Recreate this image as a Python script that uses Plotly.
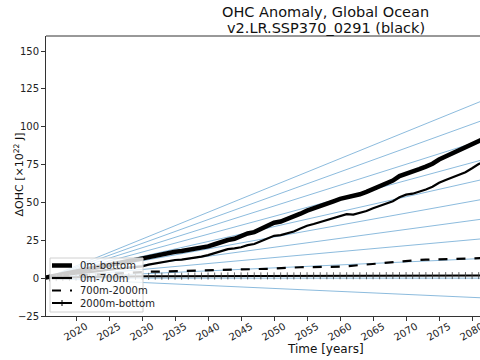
import plotly.graph_objects as go

years = list(range(2015, 2083))

ohc_total = [0.0, 0.9, 2.1, 2.9, 3.8, 4.6, 5.3, 6.4, 7.0, 7.9,
             8.8, 9.6, 10.4, 11.3, 12.1, 13.0, 14.2, 15.1, 16.0, 16.9,
             17.4, 17.9, 18.6, 19.2, 20.2, 21.0, 22.4, 23.9, 25.2, 26.0,
             27.8, 29.5, 30.4, 32.6, 34.5, 36.6, 37.4, 38.9, 40.4, 42.6,
             44.6, 46.0, 47.6, 49.2, 50.8, 52.4, 53.5, 53.9, 55.4, 57.0,
             59.0, 60.8, 62.5, 64.5, 67.4, 69.2, 70.5, 72.0, 73.7, 75.6,
             78.4, 80.5, 82.3, 84.4, 86.0, 88.2, 90.6, 92.5]

ohc_0_700 = [0.0, 0.5, 1.4, 1.9, 2.5, 2.9, 3.3, 4.1, 4.4, 5.0,
             5.6, 6.0, 6.5, 7.0, 7.4, 7.8, 8.9, 9.8, 10.6, 11.6,
             12.0, 12.3, 12.8, 13.2, 14.2, 15.2, 16.4, 17.7, 19.2, 19.7,
             20.4, 21.8, 22.6, 24.4, 26.2, 28.0, 28.4, 29.6, 30.8, 32.8,
             34.6, 35.8, 37.2, 38.6, 40.0, 41.2, 42.3, 42.0, 43.0, 44.4,
             46.2, 47.8, 49.2, 50.8, 53.4, 55.2, 55.8, 57.0, 58.6, 60.4,
             63.0, 64.8, 66.4, 68.2, 70.0, 72.6, 75.4, 77.4]

ohc_700_2000 = [0.0, 0.4, 0.7, 0.9, 1.2, 1.6, 1.9, 2.1, 2.4, 2.6,
                2.9, 3.2, 3.5, 3.8, 4.0, 4.2, 4.3, 4.3, 4.4, 4.4,
                4.5, 4.6, 4.6, 4.7, 4.8, 4.9, 5.0, 5.2, 5.3, 5.4,
                5.5, 5.7, 5.9, 6.1, 6.2, 6.4, 6.7, 6.9, 7.0, 7.2,
                7.3, 7.3, 7.2, 7.2, 7.4, 7.6, 7.9, 8.3, 8.7, 9.1,
                9.5, 9.9, 10.3, 10.6, 11.0, 11.4, 11.8, 12.0, 12.2, 12.3,
                12.4, 12.5, 12.6, 12.7, 12.9, 13.0, 13.2, 13.3]

ohc_2000_bottom = [0.0, 0.2, 0.3, 0.4, 0.5, 0.6, 0.7, 0.8, 0.8, 0.9,
                   1.0, 1.0, 1.1, 1.1, 1.2, 1.2, 1.2, 1.3, 1.3, 1.3,
                   1.3, 1.3, 1.4, 1.4, 1.4, 1.4, 1.4, 1.4, 1.5, 1.5,
                   1.5, 1.5, 1.5, 1.5, 1.5, 1.5, 1.5, 1.5, 1.5, 1.6,
                   1.6, 1.6, 1.6, 1.6, 1.6, 1.6, 1.6, 1.6, 1.6, 1.6,
                   1.6, 1.6, 1.7, 1.7, 1.7, 1.7, 1.7, 1.7, 1.7, 1.7,
                   1.7, 1.7, 1.7, 1.7, 1.7, 1.7, 1.7, 1.7]

# reference lines of constant heating rate: value reached at ref_end_year
ref_start_year = 2015.45
ref_end_year = 2082.0
ref_end_values = [-13.1, 0.0, 13.1, 26.2, 39.3, 52.4, 65.6, 78.7, 91.8, 104.9, 118.0]

y_ticks = [-25, 0, 25, 50, 75, 100, 125, 150]
x_ticks = list(range(2020, 2085, 5))

legend_labels = ["0m-bottom", "0m-700m", "700m-2000m", "2000m-bottom"]
title_lines = ["OHC Anomaly, Global Ocean", "v2.LR.SSP370_0291 (black)"]

W, H = 480, 360
ML, MR, MT, MB = 46, 0, 36, 44
PW, PH = W - ML - MR, H - MT - MB


def px_x(p):
    return (p - ML) / PW


def px_y(p):
    return (H - MB - p) / PH


fig = go.Figure()

for v in ref_end_values:
    fig.add_trace(go.Scatter(x=[ref_start_year, ref_end_year], y=[0.0, v],
                             mode="lines", line=dict(color="rgba(120,175,215,0.85)", width=1),
                             showlegend=False, hoverinfo="skip"))

fig.add_trace(go.Scatter(x=years, y=ohc_total, mode="lines", name=legend_labels[0],
                         line=dict(color="black", width=4.5)))
fig.add_trace(go.Scatter(x=years, y=ohc_0_700, mode="lines", name=legend_labels[1],
                         line=dict(color="black", width=2.2)))
fig.add_trace(go.Scatter(x=years, y=ohc_700_2000, mode="lines", name=legend_labels[2],
                         line=dict(color="black", width=2.2, dash="dash")))
fig.add_trace(go.Scatter(x=years, y=ohc_2000_bottom, mode="lines+markers", name=legend_labels[3],
                         line=dict(color="black", width=2),
                         marker=dict(symbol="line-ns", size=5, line=dict(color="rgba(60,60,60,0.8)", width=1))))

font = "DejaVu Sans"

# custom legend (matplotlib-like compact legend)
shapes = [dict(type="line", xref="paper", yref="paper", x0=0, x1=1, y0=1, y1=1,
               line=dict(color="#333", width=1))]
shapes.append(dict(type="rect", xref="paper", yref="paper", layer="above",
                   x0=px_x(50), x1=px_x(143), y0=px_y(312), y1=px_y(258),
                   fillcolor="rgba(255,255,255,0.8)", line=dict(color="#d0d0d0", width=1)))
entry_y = [265.5, 278.0, 290.5, 303.0]
entry_w = [4.5, 2.2, 2.2, 2]
entry_dash = ["solid", "solid", "dash", "solid"]
annotations = []
for i, lab in enumerate(legend_labels):
    yy = px_y(entry_y[i])
    shapes.append(dict(type="line", xref="paper", yref="paper", layer="above",
                       x0=px_x(52), x1=px_x(72), y0=yy, y1=yy,
                       line=dict(color="black", width=entry_w[i], dash=entry_dash[i])))
    annotations.append(dict(text=lab, xref="paper", yref="paper", x=px_x(78), y=yy,
                            xanchor="left", yanchor="middle", showarrow=False,
                            font=dict(size=10, family=font, color="#222")))
shapes.append(dict(type="line", xref="paper", yref="paper", layer="above",
                   x0=px_x(62), x1=px_x(62), y0=px_y(300), y1=px_y(306),
                   line=dict(color="black", width=1)))

title_y = [12.0, 28.0]
for t, ty in zip(title_lines, title_y):
    annotations.append(dict(text=t, xref="paper", yref="paper", x=0.645, y=px_y(ty),
                            xanchor="center", yanchor="middle", showarrow=False,
                            font=dict(size=14.5, family=font, color="#111")))

annotations += [
    dict(text="Time [years]", xref="paper", yref="paper", x=0.645, y=px_y(349),
         xanchor="center", yanchor="middle", showarrow=False,
         font=dict(size=12, family=font, color="#111")),
    dict(text="ΔOHC [×10<sup>22</sup> J]", xref="paper", yref="paper", x=0, xshift=-37,
         y=px_y(175), xanchor="left", yanchor="middle", textangle=-90, showarrow=False,
         font=dict(size=11, family=font, color="#111")),
]

fig.update_layout(
    width=W, height=H,
    margin=dict(l=ML, r=MR, t=MT, b=MB, autoexpand=False),
    paper_bgcolor="white", plot_bgcolor="white",
    font=dict(family=font, color="#222", size=10),
    showlegend=False,
    xaxis=dict(range=[2015.45, 2081.2], tickvals=x_ticks, tickangle=-30, automargin=False,
               ticklabelshift=10, ticklabelstandoff=-4, ticklabeloverflow="allow",
               ticks="outside", ticklen=4, tickcolor="#333", tickfont=dict(size=10),
               showgrid=False, zeroline=False, showline=True, linecolor="#333", linewidth=1),
    yaxis=dict(range=[-25, 160], tickvals=y_ticks, automargin=False,
               ticks="outside", ticklen=4, tickcolor="#333", tickfont=dict(size=10),
               showgrid=False, zeroline=False, showline=True, linecolor="#333", linewidth=1),
    shapes=shapes,
    annotations=annotations,
)

fig.write_html("out.html", config={"displayModeBar": False},
               post_script="document.body.style.margin='0px';")
